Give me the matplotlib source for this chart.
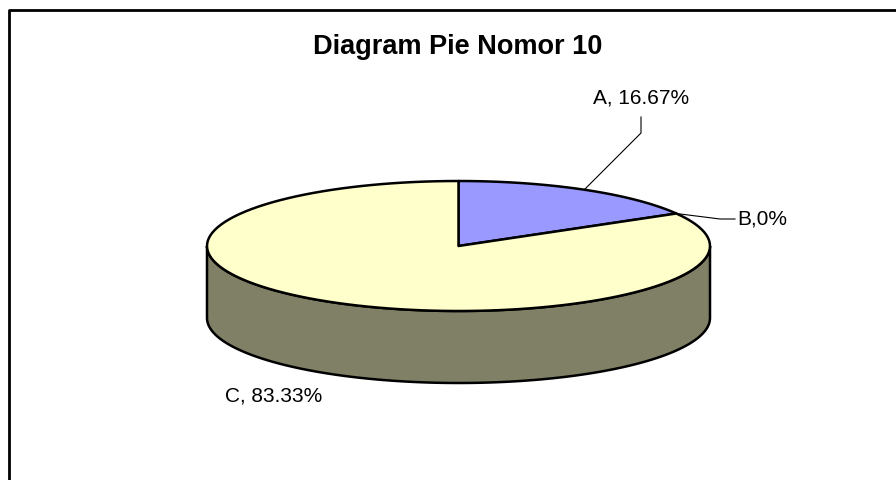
import numpy as np
import matplotlib
matplotlib.use('Agg')
import matplotlib.pyplot as plt
from matplotlib.patches import Polygon

# data
labels = ['A', 'B', 'C']
values = [16.67, 0.0, 83.33]
label_text = ['A, 16.67%', 'B,0%', 'C, 83.33%']

# style
top_colors = ['#9999FF', '#993366', '#FFFFCC']
side_colors = ['#4D4D80', '#4D1A33', '#808066']
FONT = 'Liberation Sans'

# pie geometry (pixel space)
CX, CY = 458.5, 246
RX, RY = 251.5, 65
DEPTH = 72


def ell(theta, dy=0.0):
    t = np.radians(theta)
    return CX + RX * np.cos(t), CY - RY * np.sin(t) + dy


def arc(t0, t1, dy=0.0, n=120):
    ts = np.linspace(t0, t1, n)
    xs, ys = ell(ts, dy)
    return list(zip(xs, ys))


fig = plt.figure(figsize=(8.96, 4.8), dpi=100)
ax = fig.add_axes([0, 0, 1, 1])
ax.set_xlim(0, 896)
ax.set_ylim(480, 0)
ax.axis('off')
fig.patch.set_facecolor('white')

# chart frame (right and bottom edges fall outside the picture)
ax.plot([8.5, 8.5, 910], [495, 9.5, 9.5], color='black', lw=2, solid_capstyle='butt',
        clip_on=False, zorder=1)

total = sum(values)
start = 90.0
spans = []
for v in values:
    sweep = 360.0 * v / total
    spans.append((start, start - sweep))
    start -= sweep

# side walls (front half only)
front = [(-540, -360), (-180, 0), (180, 360)]
for (s, e), col in zip(spans, side_colors):
    for a, b in front:
        lo, hi = max(e, a), min(s, b)
        if hi - lo > 0.01:
            pts = arc(hi, lo) + arc(lo, hi, DEPTH)
            ax.add_patch(Polygon(pts, closed=True, fc=col, ec='black', lw=1.8, zorder=2))

# top faces
for (s, e), col in zip(spans, top_colors):
    if s - e < 0.01:
        continue
    pts = [(CX, CY)] + arc(s, e)
    ax.add_patch(Polygon(pts, closed=True, fc=col, ec='black', lw=1.8, zorder=3,
                         joinstyle='round'))

# title
ax.text(457.5, 54, 'Diagram Pie Nomor 10', ha='center', va='baseline',
        fontsize=19.5, fontweight='bold', family=FONT, color='black')

# labels with leader lines
mid = [(s + e) / 2 for s, e in spans]

# A
axp, ayp = ell(mid[0])
ax.plot([axp, 641, 641], [ayp, 133, 117], color='black', lw=0.8, zorder=4)
ax.text(641, 104, label_text[0], ha='center', va='baseline', fontsize=15,
        family=FONT, color='black')

# B
bxp, byp = ell(mid[1])
ax.plot([bxp, 720, 735], [byp, 219, 219], color='black', lw=0.8, zorder=4)
ax.text(737, 219, label_text[1], ha='left', va='center', fontsize=15,
        family=FONT, color='black')

# C
ax.text(225, 402, label_text[2], ha='left', va='baseline', fontsize=15,
        family=FONT, color='black')

fig.savefig('out.png', dpi=100, facecolor='white')
